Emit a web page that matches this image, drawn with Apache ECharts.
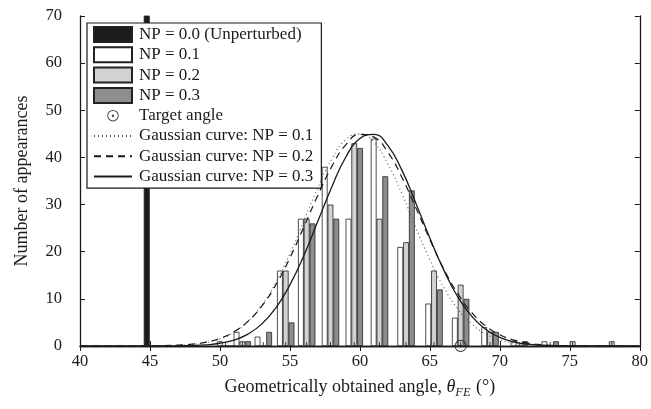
<!DOCTYPE html>
<html><head><meta charset="utf-8">
<script src="https://cdn.jsdelivr.net/npm/echarts@6/dist/echarts.min.js"></script>
<style>html,body{margin:0;padding:0;background:#fff}#c{width:651px;height:409px}</style>
</head><body><div id="c"></div>
<script>
// ---- data ----
const binCenters = [50.4, 51.6, 53.1, 54.7, 56.2, 57.9, 59.6, 61.4, 63.3, 65.3, 67.2, 69.3, 71.4, 73.6, 75.2, 78.0];
const np1 = [1, 3, 2, 16, 27, 38, 27, 44, 21, 9, 6, 4, 1, 1, 0, 0];
const np2 = [0, 1, 0, 16, 27, 30, 43, 27, 22, 16, 13, 3, 0, 0, 1, 1];
const np3 = [0, 1, 3, 5, 26, 27, 42, 36, 33, 12, 10, 3, 1, 1, 0, 0];
const unperturbedX = [44.77];
const unperturbedCount = [200];
const targetAngle = [67.2];
const gaussX = [40,41,42,43,44,45,46,47,48,49,50,51,52,53,54,55,56,57,58,59,60,61,62,63,64,65,66,67,68,69,70,71,72,73,74,75,76,77,78,79,80];
const gauss1 = [0,0,0,0,0.01,0.02,0.06,0.14,0.33,0.74,1.51,2.90,5.19,8.65,13.5,19.6,26.6,33.6,39.7,43.8,45.0,43.2,38.6,32.3,25.1,18.3,12.4,7.85,4.64,2.56,1.32,0.63,0.28,0.12,0.05,0.02,0.01,0,0,0,0];
const gauss2 = [0,0,0,0,0.01,0.03,0.08,0.18,0.40,0.83,1.63,3.02,5.23,8.51,13.0,18.7,25.3,32.0,38.1,42.7,44.9,44.3,41.1,35.8,29.3,22.6,16.3,11.1,7.06,4.23,2.38,1.26,0.62,0.29,0.13,0.05,0.02,0.01,0,0,0];
const gauss3 = [0,0,0,0,0,0,0.01,0.04,0.10,0.25,0.58,1.26,2.53,4.69,8.10,12.96,19.2,26.5,33.8,40.1,44.0,44.9,42.5,37.3,30.3,22.9,16.1,10.4,6.29,3.52,1.83,0.88,0.39,0.16,0.06,0.02,0.01,0,0,0,0];
const xMin = 40, xMax = 80, xStep = 5;
const yMin = 0, yMax = 70, yStep = 10;

const FONT = 'Liberation Serif';
const INK = '#1a1a1a';
const zip = (xs, ys) => xs.map((x, i) => [x, ys[i]]);
const targetPath = 'path://M-13,-13L-13,-13M13,13L13,13M0,-10A10,10 0 1,1 0,10A10,10 0 1,1 0,-10ZM0,-8.3A8.3,8.3 0 1,0 0,8.3A8.3,8.3 0 1,0 0,-8.3ZM0,-2.2A2.2,2.2 0 1,1 0,2.2A2.2,2.2 0 1,1 0,-2.2Z';

const chart = echarts.init(document.getElementById('c'), null, {renderer: 'canvas'});
const axisCommon = {
  axisLine: {show: true, lineStyle: {color: INK, width: 1.3}},
  axisTick: {show: true, inside: true, length: 5, lineStyle: {color: INK, width: 1}},
  splitLine: {show: false}
};
const barStyle = (fill) => ({color: fill, borderColor: '#222', borderWidth: 0.8});
const hiddenSym = {color: 'rgba(0,0,0,0)', borderColor: 'rgba(0,0,0,0)', borderWidth: 0, opacity: 0};

chart.setOption({
  animation: false,
  backgroundColor: '#fff',
  textStyle: {fontFamily: FONT, color: INK},
  grid: {left: 80, right: 9, top: 16, bottom: 63},
  xAxis: [
    Object.assign({type: 'value', min: xMin, max: xMax, interval: xStep, position: 'bottom',
      axisLabel: {fontFamily: FONT, fontSize: 16.5, color: INK, margin: 7},
      name: '{a|Geometrically obtained angle, }{t|θ}{s|FE}{a| (°)}',
      nameLocation: 'middle', nameGap: 30,
      nameTextStyle: {rich: {
        a: {fontFamily: FONT, fontSize: 18, color: INK},
        t: {fontFamily: FONT, fontSize: 18, fontStyle: 'italic', color: INK},
        s: {fontFamily: FONT, fontSize: 12.5, fontStyle: 'italic', color: INK, padding: [10, 1, 0, 0]}
      }}
    }, axisCommon),
    Object.assign({type: 'value', min: xMin, max: xMax, interval: xStep, position: 'top',
      axisLabel: {show: false}}, axisCommon)
  ],
  yAxis: [
    Object.assign({type: 'value', min: yMin, max: yMax, interval: yStep, position: 'left',
      axisLabel: {fontFamily: FONT, fontSize: 16.5, color: INK, margin: 18},
      name: 'Number of appearances', nameLocation: 'middle', nameGap: 49,
      nameTextStyle: {fontFamily: FONT, fontSize: 18, color: INK}
    }, axisCommon),
    Object.assign({type: 'value', min: yMin, max: yMax, interval: yStep, position: 'right',
      axisLabel: {show: false}}, axisCommon)
  ],
  legend: {
    orient: 'vertical', left: 87, top: 23,
    padding: [3, 8, 3, 6], itemGap: 3.3, itemWidth: 38, itemHeight: 15,
    backgroundColor: '#fff', borderColor: INK, borderWidth: 1.2,
    textStyle: {fontFamily: FONT, fontSize: 17, lineHeight: 16, color: INK, padding: [0, 0, 0, 2]},
    data: [
      {name: 'NP = 0.0 (Unperturbed)', icon: 'rect'},
      {name: 'NP = 0.1', icon: 'rect'},
      {name: 'NP = 0.2', icon: 'rect'},
      {name: 'NP = 0.3', icon: 'rect'},
      {name: 'Target angle'},
      {name: 'Gaussian curve: NP = 0.1', itemStyle: hiddenSym},
      {name: 'Gaussian curve: NP = 0.2', itemStyle: hiddenSym},
      {name: 'Gaussian curve: NP = 0.3', itemStyle: hiddenSym}
    ]
  },
  series: [
    {name: 'NP = 0.0 (Unperturbed)', type: 'bar', xAxisIndex: 1, yAxisIndex: 0, barWidth: 6,
      itemStyle: barStyle('#1c1c1c'), data: zip(unperturbedX, unperturbedCount)},
    {name: 'NP = 0.1', type: 'bar', barWidth: 5.8, barGap: '0%', itemStyle: barStyle('#ffffff'), data: zip(binCenters, np1)},
    {name: 'NP = 0.2', type: 'bar', barWidth: 5.8, barGap: '0%', itemStyle: barStyle('#d2d2d2'), data: zip(binCenters, np2)},
    {name: 'NP = 0.3', type: 'bar', barWidth: 5.8, barGap: '0%', itemStyle: barStyle('#8e8e8e'), data: zip(binCenters, np3)},
    {name: 'Gaussian curve: NP = 0.1', type: 'line', smooth: true, showSymbol: false, symbol: 'none', z: 5,
      lineStyle: {color: '#555', width: 1.1, type: [1, 3]}, itemStyle: {color: '#555'}, data: zip(gaussX, gauss1)},
    {name: 'Gaussian curve: NP = 0.2', type: 'line', smooth: true, showSymbol: false, symbol: 'none', z: 5,
      lineStyle: {color: INK, width: 1.2, type: [7, 5]}, itemStyle: {color: INK}, data: zip(gaussX, gauss2)},
    {name: 'Gaussian curve: NP = 0.3', type: 'line', smooth: true, showSymbol: false, symbol: 'none', z: 5,
      lineStyle: {color: INK, width: 1.3, type: 'solid'}, itemStyle: {color: INK}, data: zip(gaussX, gauss3)},
    {name: 'Target angle', type: 'scatter', symbol: targetPath, symbolSize: 16, z: 6,
      itemStyle: {color: INK}, data: targetAngle.map(x => [x, 0])},
    {name: 'bin ticks', type: 'scatter', symbol: 'rect', symbolSize: [1, 4], symbolOffset: [0, -2], z: 4,
      silent: true, itemStyle: {color: INK}, data: binCenters.map(x => [x, 0])}
  ]
});
</script></body></html>
